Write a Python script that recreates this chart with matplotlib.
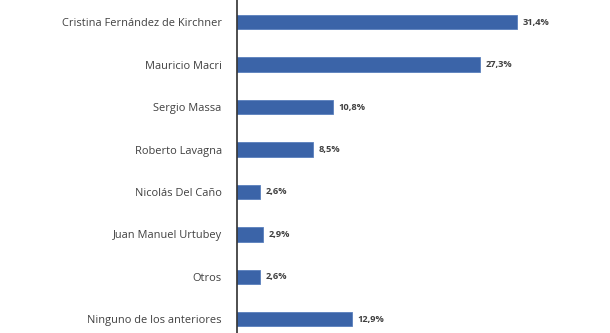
import matplotlib.pyplot as plt

candidates = ['Cristina Fernández de Kirchner', 'Mauricio Macri', 'Sergio Massa',
              'Roberto Lavagna', 'Nicolás Del Caño', 'Juan Manuel Urtubey',
              'Otros', 'Ninguno de los anteriores']
values = [31.4, 27.3, 10.8, 8.5, 2.6, 2.9, 2.6, 12.9]
value_labels = ['31,4%', '27,3%', '10,8%', '8,5%', '2,6%', '2,9%', '2,6%', '12,9%']

plt.rcParams['font.family'] = ['Open Sans', 'DejaVu Sans']

fig = plt.figure(figsize=(6.1, 3.33), dpi=100)
ax = fig.add_axes([0.3885, 0, 0.579, 1])

y = list(range(len(candidates)))
ax.barh(y, values, height=0.33, color='#3b64a8', edgecolor='#5a7fbd', linewidth=0.6)

for yi, v, lab in zip(y, values, value_labels):
    ax.text(v + 0.6, yi, lab, va='center', ha='left', fontsize=6.7,
            color='#404040', fontweight='bold')

ax.set_yticks(y)
ax.set_yticklabels(candidates, fontsize=7.9, color='#404040')
ax.tick_params(axis='y', length=0, pad=11)
ax.set_xticks([])
ax.set_xlim(0, 39.6)
ax.set_ylim(7.318, -0.518)

for s in ['top', 'right', 'bottom']:
    ax.spines[s].set_visible(False)
ax.spines['left'].set_color('#303030')
ax.spines['left'].set_linewidth(1.2)

fig.savefig('out.png', dpi=100)
